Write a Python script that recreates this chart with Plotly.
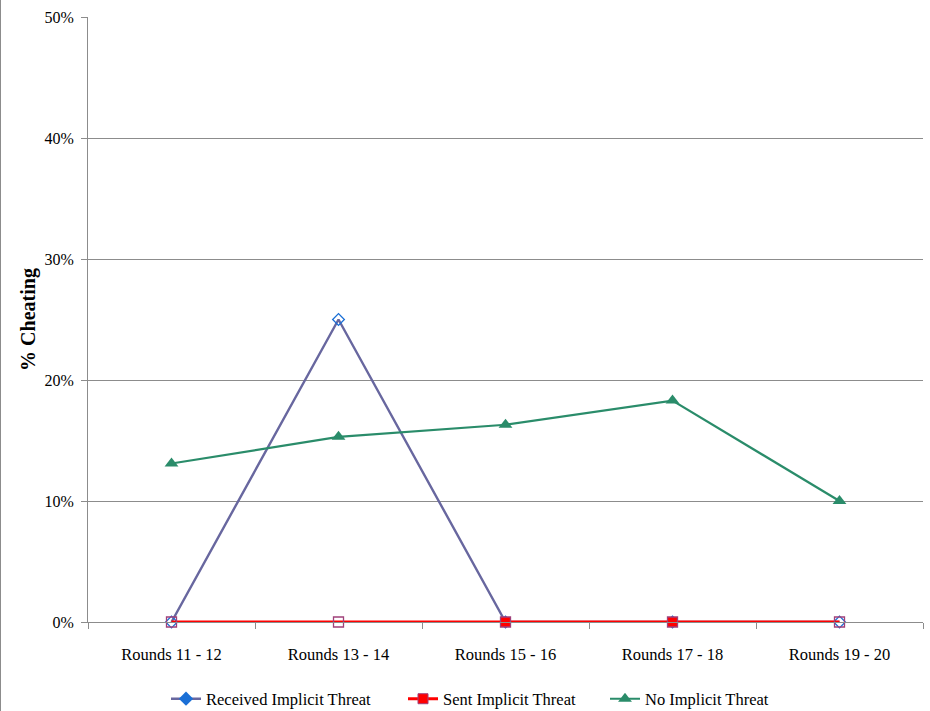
import plotly.graph_objects as go

# Cheating rate by block of rounds, for each threat condition
rounds = ["Rounds 11 - 12", "Rounds 13 - 14", "Rounds 15 - 16", "Rounds 17 - 18", "Rounds 19 - 20"]
received_threat = [0.0, 25.0, 0.0, 0.0, 0.0]
sent_threat = [0.0, 0.0, 0.0, 0.0, 0.0]
no_threat = [13.1, 15.3, 16.3, 18.3, 10.0]

# marker fill per point (open where the value is drawn hollow)
received_symbols = ["diamond-open", "diamond-open", "diamond", "diamond", "diamond-open"]

y_ticks = [0, 10, 20, 30, 40, 50]
y_tick_text = ["0%", "10%", "20%", "30%", "40%", "50%"]

FONT = "Liberation Serif, Times New Roman, serif"
C_RECV_LINE = "#68679F"
C_RECV_MARK = "#1A6FD6"
C_SENT = "#FF0000"
C_SENT_EDGE = "#A0407A"
C_NONE = "#2A8C6A"
C_AXIS = "#8C8C8C"

fig = go.Figure()

fig.add_trace(go.Scatter(
    x=rounds, y=received_threat, mode="lines+markers", showlegend=False,
    line=dict(color=C_RECV_LINE, width=2.4),
    marker=dict(symbol=received_symbols, size=9, color=C_RECV_MARK,
                line=dict(color=C_RECV_MARK, width=1.3)),
    cliponaxis=False,
))
fig.add_trace(go.Scatter(
    x=rounds, y=sent_threat, mode="lines+markers", showlegend=False,
    line=dict(color=C_SENT, width=3),
    marker=dict(symbol="square", size=10,
                color=["rgba(255,255,255,0)", "rgba(255,255,255,0)", C_SENT, C_SENT, "rgba(255,255,255,0)"],
                line=dict(color=C_SENT_EDGE, width=1.3)),
    cliponaxis=False,
))
fig.add_trace(go.Scatter(
    x=rounds, y=no_threat, mode="lines+markers", showlegend=False,
    line=dict(color=C_NONE, width=2.2),
    marker=dict(symbol="triangle-up", size=12, color=C_NONE),
    cliponaxis=False,
))

# legend entries, one small legend each so they can be spaced out
legend_specs = [
    ("Received Implicit Threat", "legend", dict(color=C_RECV_LINE, width=2.4),
     dict(symbol="diamond", size=11, color=C_RECV_MARK, line=dict(color=C_RECV_MARK, width=0))),
    ("Sent Implicit Threat", "legend2", dict(color=C_SENT, width=3),
     dict(symbol="square", size=10, color=C_SENT, line=dict(color=C_SENT_EDGE, width=1))),
    ("No Implicit Threat", "legend3", dict(color=C_NONE, width=2.2),
     dict(symbol="triangle-up", size=12, color=C_NONE)),
]
for name, lg, ln, mk in legend_specs:
    fig.add_trace(go.Scatter(x=[None], y=[None], mode="lines+markers", name=name,
                             legend=lg, line=ln, marker=mk))

legend_y = (711 - 699) / 711
legend_common = dict(orientation="h", xanchor="left", xref="container",
                     y=legend_y, yanchor="middle", yref="container",
                     font=dict(family=FONT, size=16.5), itemwidth=30,
                     bgcolor="rgba(0,0,0,0)")

fig.update_layout(
    width=930, height=711,
    margin=dict(l=88, r=7, t=17, b=89, autoexpand=False),
    paper_bgcolor="white", plot_bgcolor="white",
    font=dict(family=FONT, size=16, color="black"),
    showlegend=True,
    legend=dict(x=166 / 930, **legend_common),
    legend2=dict(x=403 / 930, **legend_common),
    legend3=dict(x=605 / 930, **legend_common),
    xaxis=dict(
        type="category", showgrid=False, showline=True, linecolor=C_AXIS, linewidth=1,
        ticks="outside", tickson="boundaries", ticklen=6, tickcolor=C_AXIS,
        tickfont=dict(family=FONT, size=16.5), range=[-0.5, 4.5], automargin=False,
        ticklabelstandoff=17,
    ),
    yaxis=dict(
        range=[0, 50], tickvals=y_ticks, ticktext=y_tick_text,
        showgrid=True, gridcolor=C_AXIS, gridwidth=1,
        showline=True, linecolor=C_AXIS, linewidth=1,
        ticks="outside", ticklen=6, tickcolor=C_AXIS, ticklabelstandoff=4,
        tickfont=dict(family=FONT, size=16), zeroline=False, automargin=False,
        title=dict(text="<b>% Cheating</b>", font=dict(family=FONT, size=20), standoff=3),
    ),
    shapes=[dict(type="line", xref="paper", yref="paper",
                 x0=-87.5 / 835, x1=-87.5 / 835, y0=-100 / 605, y1=1 + 20 / 605,
                 line=dict(color=C_AXIS, width=1))],
)

fig.write_html("out.html")
